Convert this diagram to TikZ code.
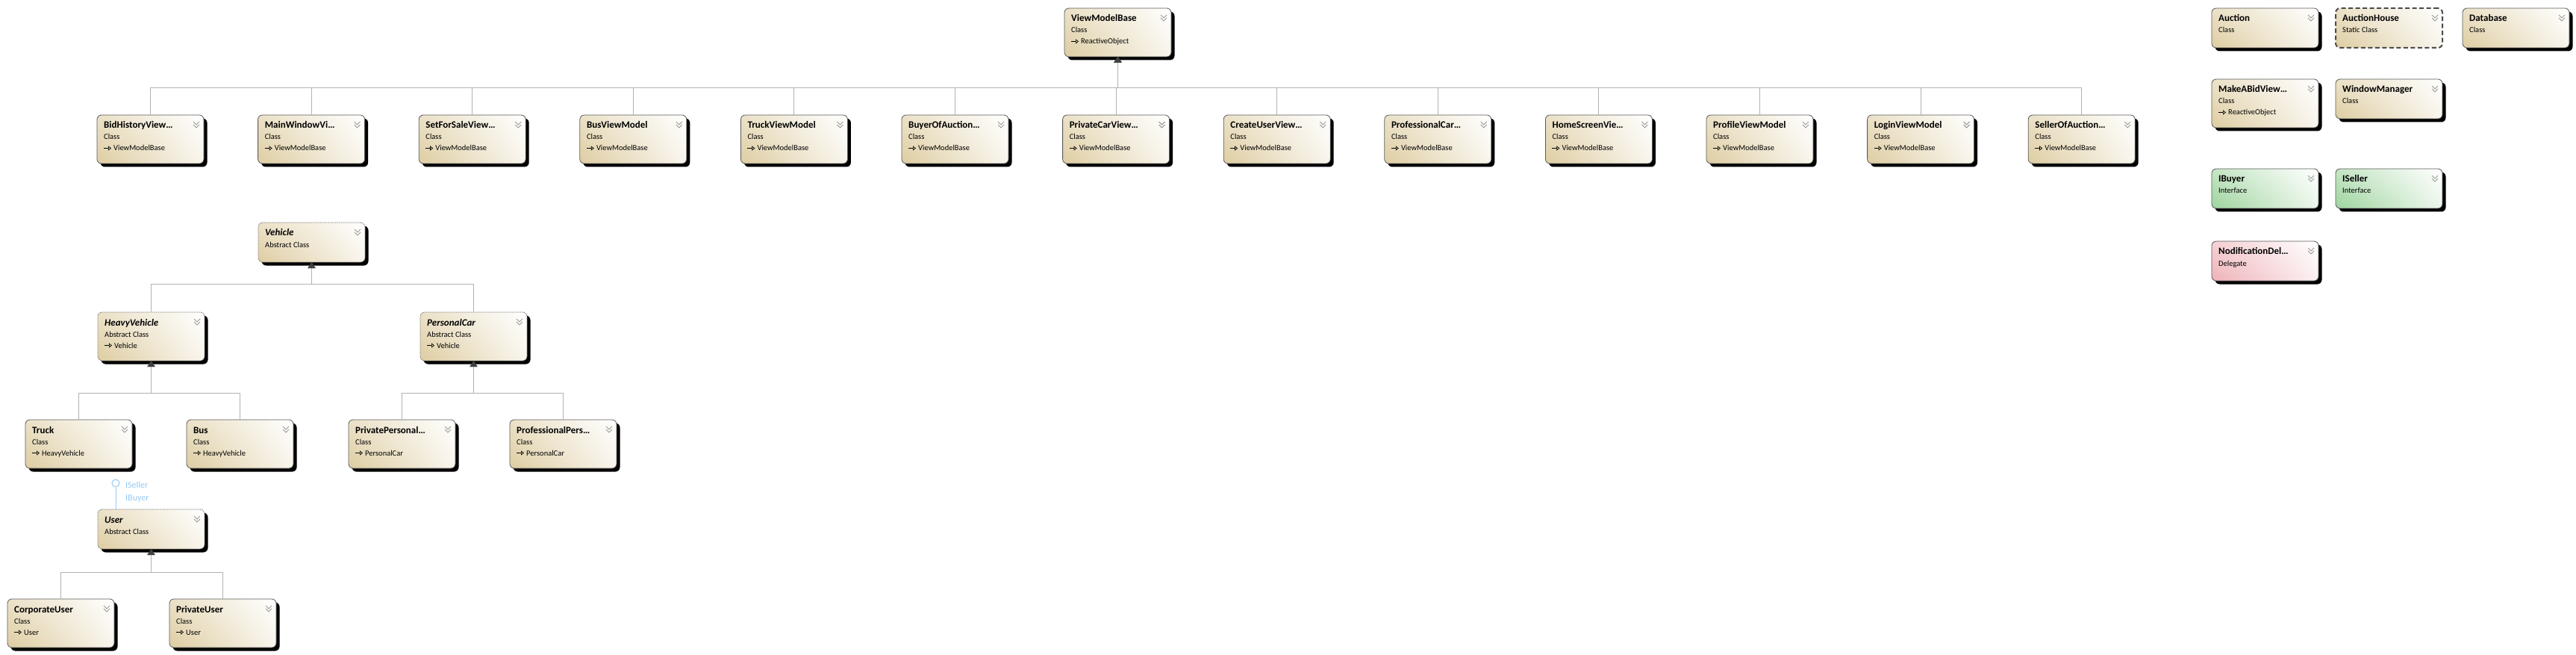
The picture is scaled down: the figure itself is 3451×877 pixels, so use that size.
\documentclass[tikz,border=0pt]{standalone}
\usepackage{fontspec}
\setmainfont{Carlito}
\usetikzlibrary{arrows.meta,shadows,shadings}

\definecolor{clsfill}{RGB}{222,205,162}
\definecolor{ifcfill}{RGB}{158,212,158}
\definecolor{dlgfill}{RGB}{238,178,184}
\definecolor{lolly}{RGB}{150,200,240}
\definecolor{boxline}{RGB}{90,90,90}

% box with title, kind and the little chevron
\newcommand{\umlbox}[6]{%
  \node[#2] (#1) at (#3,#4) {};
  \node[ttl] (#1-t) at ([xshift=9pt,yshift=-18pt]#1.north west) {#5};
  \node[knd] (#1-k) at ([xshift=9pt,yshift=-33pt]#1.north west) {#6};
  \draw[chev] ([xshift=-14pt,yshift=-9pt]#1.north east) -- ++(4,4) -- ++(4,-4)
              ([xshift=-14pt,yshift=-13pt]#1.north east) -- ++(4,4) -- ++(4,-4);
}
% base class line
\newcommand{\umlparent}[2]{%
  \draw[icon] ([xshift=9pt,yshift=-44.5pt]#1.north west) -- ++(10,0);
  \node[knd] (#1-p) at ([xshift=22pt,yshift=-48pt]#1.north west) {#2};
}

\begin{document}
\begin{tikzpicture}[x=1pt,y=-1pt,
  boxbase/.style={anchor=north west, minimum width=143pt, minimum height=65pt,
    rounded corners=6pt, draw=boxline, line width=0.8pt, inner sep=0pt, outer sep=0pt,
    upper left=#1!60!white, lower left=#1, upper right=white, lower right=#1!20!white},
  boxbase/.default=clsfill,
  clsbox/.style={boxbase=#1, drop shadow={shadow xshift=4.5pt,shadow yshift=-4.5pt,fill=black,opacity=1}},
  clsbox/.default=clsfill,
  absbox/.style={clsbox, draw=black!55, dash pattern=on 1.5pt off 1pt},
  statbox/.style={boxbase, draw=black!70, line width=2pt, dash pattern=on 6pt off 3.5pt},
  shortbox/.style={minimum height=53pt},
  ttl/.style={anchor=base west, inner sep=0pt, font=\fontsize{13}{15}\selectfont\bfseries},
  knd/.style={anchor=base west, inner sep=0pt, font=\fontsize{10.5}{12}\selectfont},
  chev/.style={draw=black!40, line width=0.9pt},
  icon/.style={line width=0.7pt, -{Triangle[open,length=4pt,width=6pt]}},
  inh/.style={draw=black!30, line width=1pt, -{Triangle[width=10pt,length=8pt,color=black!75]}},
  lolli/.style={circle, draw=lolly, line width=1pt, minimum size=10pt, inner sep=0pt},
  lollyline/.style={draw=lolly, line width=1pt},
  lollytxt/.style={anchor=base west, inner sep=0pt, text=lolly, font=\fontsize{12}{14}\selectfont}]

\fill[white] (0,0) rectangle (3451,877);
\useasboundingbox (0,0) rectangle (3451,877);

% view models
\umlbox{vmb}{clsbox}{1426}{11}{ViewModelBase}{Class}
\umlparent{vmb}{ReactiveObject}

\foreach \n/\t [count=\i from 0] in {bid/BidHistoryView\ldots, mainw/MainWindowVi\ldots,
    sale/SetForSaleView\ldots, busvm/BusViewModel, truckvm/TruckViewModel,
    buyer/BuyerOfAuction\ldots, pcar/PrivateCarView\ldots, cuser/CreateUserView\ldots,
    profcar/ProfessionalCar\ldots, home/HomeScreenVie\ldots, prof/ProfileViewModel,
    login/LoginViewModel, seller/SellerOfAuction\ldots}{
  \umlbox{\n}{clsbox}{130+215.6*\i}{154}{\t}{Class}
  \umlparent{\n}{ViewModelBase}
}

% vehicles
\umlbox{vehicle}{absbox,shortbox}{346}{298}{\textit{Vehicle}}{Abstract Class}
\umlbox{heavy}{absbox}{131}{418}{\textit{HeavyVehicle}}{Abstract Class}
\umlparent{heavy}{Vehicle}
\umlbox{personal}{absbox}{563}{418}{\textit{PersonalCar}}{Abstract Class}
\umlparent{personal}{Vehicle}
\umlbox{truck}{clsbox}{34}{562}{Truck}{Class}
\umlparent{truck}{HeavyVehicle}
\umlbox{bus}{clsbox}{250}{562}{Bus}{Class}
\umlparent{bus}{HeavyVehicle}
\umlbox{privpers}{clsbox}{467}{562}{PrivatePersonal\ldots}{Class}
\umlparent{privpers}{PersonalCar}
\umlbox{profpers}{clsbox}{683}{562}{ProfessionalPers\ldots}{Class}
\umlparent{profpers}{PersonalCar}

% users
\umlbox{user}{absbox,shortbox}{131}{682}{\textit{User}}{Abstract Class}
\umlbox{corp}{clsbox}{10}{802}{CorporateUser}{Class}
\umlparent{corp}{User}
\umlbox{privuser}{clsbox}{227}{802}{PrivateUser}{Class}
\umlparent{privuser}{User}

% loose types
\umlbox{auction}{clsbox,shortbox}{2963}{11}{Auction}{Class}
\umlbox{ahouse}{statbox,shortbox}{3129}{11}{AuctionHouse}{Static Class}
\umlbox{db}{clsbox,shortbox}{3299}{11}{Database}{Class}
\umlbox{makebid}{clsbox}{2963}{106}{MakeABidView\ldots}{Class}
\umlparent{makebid}{ReactiveObject}
\umlbox{winmgr}{clsbox,shortbox}{3129}{106}{WindowManager}{Class}
\umlbox{ibuyer}{clsbox=ifcfill,shortbox}{2963}{226}{IBuyer}{Interface}
\umlbox{iseller}{clsbox=ifcfill,shortbox}{3129}{226}{ISeller}{Interface}
\umlbox{nodif}{clsbox=dlgfill,shortbox}{2963}{323}{NodificationDel\ldots}{Delegate}

% inheritance
\path (vmb.south) ++(0,42) coordinate (vmbus);
\foreach \c in {bid,mainw,sale,busvm,truckvm,buyer,pcar,cuser,profcar,home,prof,login,seller}
  \draw[inh] (\c.north) |- (vmbus) -- (vmb.south);

\path (vehicle.south) ++(0,29) coordinate (vbus);
\draw[inh] (heavy.north) |- (vbus) -- (vehicle.south);
\draw[inh] (personal.north) |- (vbus) -- (vehicle.south);

\path (heavy.south) ++(0,43) coordinate (hbus);
\draw[inh] (truck.north) |- (hbus) -- (heavy.south);
\draw[inh] (bus.north) |- (hbus) -- (heavy.south);

\path (personal.south) ++(0,43) coordinate (pbus);
\draw[inh] (privpers.north) |- (pbus) -- (personal.south);
\draw[inh] (profpers.north) |- (pbus) -- (personal.south);

\path (user.south) ++(0,31) coordinate (ubus);
\draw[inh] (corp.north) |- (ubus) -- (user.south);
\draw[inh] (privuser.north) |- (ubus) -- (user.south);

% interfaces of User
\node[lolli] (lol) at (155,647) {};
\draw[lollyline] (lol.south) -- (lol.south |- user.north);
\node[lollytxt] (lol-s) at (168,653) {ISeller};
\node[lollytxt] (lol-b) at (168,670) {IBuyer};
\end{tikzpicture}
\end{document}
